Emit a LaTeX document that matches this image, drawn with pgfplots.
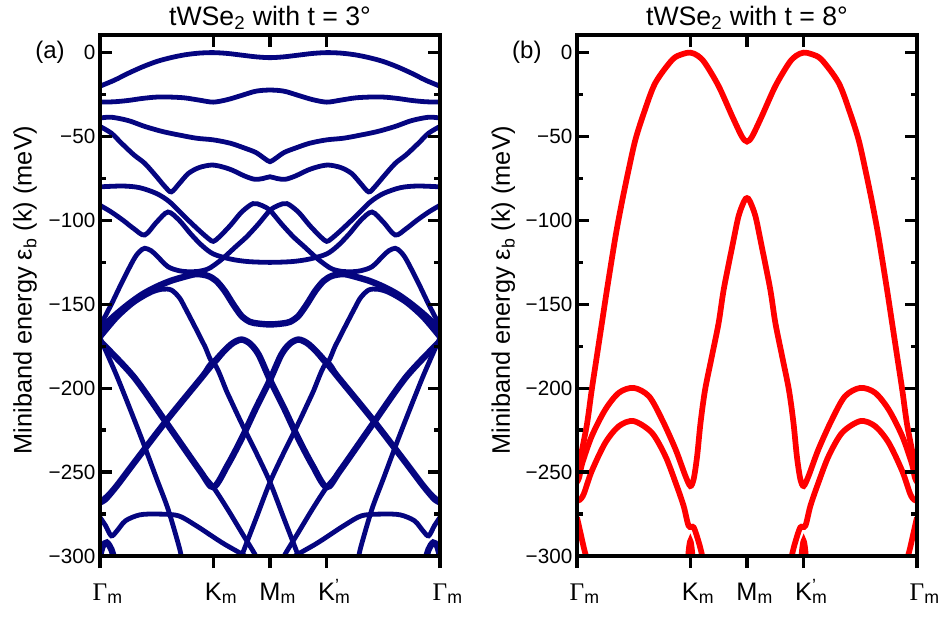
\documentclass[border=0pt]{standalone}
\usepackage{fontspec}
\setmainfont{Liberation Sans}
\newfontfamily\serifgreek{Liberation Serif}
\usepackage{pgfplots}
\pgfplotsset{compat=1.18}
\definecolor{bandnavy}{RGB}{5,5,128}

\pgfplotsset{
  bandpanel/.style={
    scale only axis, width=255pt, height=390.75pt,
    xmin=0, xmax=6, ymin=-300, ymax=10.5,
    axis on top, clip mode=individual,
    axis line style={line width=3pt},
    every tick/.style={black, line width=2.5pt},
    major tick length=9pt, minor tick length=4.5pt,
    xtick={0,2,3,4,6},
    xticklabels={{\serifgreek Γ}\rlap{\textsubscript{m}}, K\rlap{\textsubscript{m}}, M\rlap{\textsubscript{m}},
                 K\rlap{\textsuperscript{'}}\rlap{\textsubscript{m}}, {\serifgreek Γ}\rlap{\textsubscript{m}}},
    xtick pos=bottom, xtick align=outside,
    extra x ticks={2,3,4}, extra x tick labels={},
    extra x tick style={xtick pos=top, tick align=inside},
    ytick={-300,-250,-200,-150,-100,-50,0},
    yticklabels={−300,−250,−200,−150,−100,−50,0},
    minor y tick num=1,
    ytick pos=both, ytick align=inside,
    xticklabel style={font=\fontsize{19}{20}\selectfont, anchor=base, yshift=-24pt},
    yticklabel style={font=\fontsize{15.5}{16}\selectfont},
    title style={font=\fontsize{20}{21}\selectfont, at={(0.5,1.0038)}, anchor=base},
    ylabel style={font=\fontsize{19}{20}\selectfont, anchor=center},
    ylabel={Miniband energy ε\textsubscript{b} (k) (meV)},
  },
  bandA/.style={bandnavy, line width=3.6pt, smooth, tension=0.5, no marks},
  bandAthick/.style={bandnavy, line width=4.8pt, smooth, tension=0.5, no marks},
  bandB/.style={red, line width=4.3pt, smooth, tension=0.5, no marks},
}

\begin{document}
\begin{tikzpicture}
\useasboundingbox (-75pt,-52.5pt) rectangle (635.25pt,417pt);

% ---------- (a) t = 3 deg ----------
\begin{axis}[bandpanel,
  title={tWSe\textsubscript{2} with t = 3°},
  ylabel style={at={(-0.2206,0.5106)}},
]
% upper minibands
\addplot[bandA] coordinates {(0,-20) (0.25,-16.5) (0.5,-12.3) (0.75,-8.5) (1,-5.3) (1.25,-3) (1.5,-1.3) (1.75,-0.3) (2,0) (2.25,-0.5) (2.5,-1.5) (2.75,-2.5) (3,-3) (3.25,-2.5) (3.5,-1.5) (3.75,-0.5) (4,0) (4.25,-0.3) (4.5,-1.3) (4.75,-3) (5,-5.3) (5.25,-8.5) (5.5,-12.3) (5.75,-16.5) (6,-20)};
\addplot[bandA] coordinates {(0,-29.5) (0.25,-29.3) (0.5,-28.5) (0.75,-27.3) (1,-26.5) (1.25,-26.5) (1.5,-27) (1.75,-28.3) (2,-29.5) (2.25,-28) (2.5,-25.5) (2.75,-23) (3,-22.3) (3.25,-23) (3.5,-25.5) (3.75,-28) (4,-29.5) (4.25,-28.3) (4.5,-27) (4.75,-26.5) (5,-26.5) (5.25,-27.3) (5.5,-28.5) (5.75,-29.3) (6,-29.5)};
\addplot[bandA] coordinates {(0,-39) (0.2,-38.5) (0.5,-40.5) (0.79,-44) (1.1,-47) (1.38,-49) (1.7,-51) (2,-52) (2.3,-54) (2.56,-57) (2.75,-59.5) (2.9,-63) (3,-65) (3.1,-63) (3.25,-59.5) (3.44,-57) (3.7,-54) (4,-52) (4.3,-51) (4.62,-49) (4.9,-47) (5.21,-44) (5.5,-40.5) (5.8,-38.5) (6,-39)};
\addplot[bandA] coordinates {(0,-44) (0.2,-48) (0.38,-54) (0.6,-61) (0.79,-66) (1,-74) (1.15,-80) (1.26,-83) (1.4,-78) (1.56,-72) (1.75,-68.5) (1.97,-67) (2.15,-68) (2.33,-70) (2.55,-73.5) (2.73,-75.5) (2.88,-75) (3,-74) (3.12,-75) (3.27,-75.5) (3.45,-73.5) (3.67,-70) (3.85,-68) (4.03,-67) (4.25,-68.5) (4.44,-72) (4.6,-78) (4.74,-83) (4.85,-80) (5,-74) (5.21,-66) (5.4,-61) (5.62,-54) (5.8,-48) (6,-44)};
\addplot[bandA] coordinates {(0,-80) (0.4,-79.5) (0.7,-80.5) (1,-84) (1.23,-89) (1.5,-98) (1.75,-106) (1.92,-111) (2,-112.5) (2.1,-110) (2.3,-103) (2.5,-95) (2.7,-90) (2.85,-91) (3,-94) (3.2,-102) (3.41,-109.7) (3.6,-115.5) (3.83,-122.6) (4,-127) (4.1,-129) (4.25,-130.3) (4.44,-130.6) (4.6,-130) (4.8,-127.6) (5,-121) (5.1,-118) (5.21,-116.6) (5.3,-118.5) (5.4,-123) (5.6,-136) (5.8,-150) (6,-163)};
\addplot[bandA] coordinates {(6,-80) (5.6,-79.5) (5.3,-80.5) (5,-84) (4.77,-89) (4.5,-98) (4.25,-106) (4.08,-111) (4,-112.5) (3.9,-110) (3.7,-103) (3.5,-95) (3.3,-90) (3.15,-91) (3,-94) (2.8,-102) (2.59,-109.7) (2.4,-115.5) (2.17,-122.6) (2,-127) (1.9,-129) (1.75,-130.3) (1.56,-130.6) (1.4,-130) (1.2,-127.6) (1,-121) (0.9,-118) (0.79,-116.6) (0.7,-118.5) (0.6,-123) (0.4,-136) (0.2,-150) (0,-163)};
\addplot[bandA] coordinates {(0,-91) (0.2,-95) (0.41,-100) (0.6,-105) (0.79,-108.7) (1,-101) (1.2,-95) (1.4,-100) (1.6,-108) (1.8,-115) (2,-120) (2.3,-123) (2.6,-124.5) (3,-125) (3.4,-124.5) (3.7,-123) (4,-120) (4.2,-115) (4.4,-108) (4.6,-100) (4.8,-95) (5,-101) (5.21,-108.7) (5.4,-105) (5.59,-100) (5.8,-95) (6,-91)};
% middle minibands
\addplot[bandAthick] coordinates {(0,-165) (0.25,-157) (0.5,-150) (0.75,-144) (1,-139.5) (1.25,-136) (1.5,-133.5) (1.7,-132) (1.9,-133) (2.05,-136) (2.2,-142) (2.35,-150) (2.5,-157) (2.65,-160.5) (2.8,-161.5) (3,-162) (3.2,-161.5) (3.35,-160.5) (3.5,-157) (3.65,-150) (3.8,-142) (3.95,-136) (4.1,-133) (4.3,-132) (4.5,-133.5) (4.75,-136) (5,-139.5) (5.25,-144) (5.5,-150) (5.75,-157) (6,-165)};
\addplot[bandA] coordinates {(0,-170) (0.3,-158) (0.6,-149) (0.9,-143) (1.1,-141) (1.26,-141.5) (1.4,-146) (1.5,-152) (1.7,-165) (1.85,-175) (2,-185) (2.2,-177.5) (2.35,-173) (2.5,-171)};
\addplot[bandA] coordinates {(6,-170) (5.7,-158) (5.4,-149) (5.1,-143) (4.9,-141) (4.74,-141.5) (4.6,-146) (4.5,-152) (4.3,-165) (4.15,-175) (4,-185) (3.8,-177.5) (3.65,-173) (3.5,-171)};
% lower minibands
\addplot[bandAthick] coordinates {(0,-268) (0.1,-266) (0.3,-258) (0.59,-245) (1.18,-219) (1.76,-195) (2,-185) (2.2,-177.5) (2.35,-173) (2.5,-171) (2.65,-173.5) (2.8,-180) (3,-195) (3.25,-212) (3.5,-230) (3.75,-246) (4,-259) (4.24,-249) (4.82,-221) (5.41,-193) (6,-172)};
\addplot[bandAthick] coordinates {(6,-268) (5.9,-266) (5.7,-258) (5.41,-245) (4.82,-219) (4.24,-195) (4,-185) (3.8,-177.5) (3.65,-173) (3.5,-171) (3.35,-173.5) (3.2,-180) (3,-195) (2.75,-212) (2.5,-230) (2.25,-246) (2,-259) (1.76,-249) (1.18,-221) (0.59,-193) (0,-172)};
\addplot[bandA] coordinates {(0,-268) (0.3,-258) (0.59,-245) (1.18,-219) (1.76,-195) (2,-185) (2.25,-203) (2.5,-221) (2.75,-238) (3,-256) (3.25,-278) (3.5,-300) (3.55,-306)};
\addplot[bandA] coordinates {(6,-268) (5.7,-258) (5.41,-245) (4.82,-219) (4.24,-195) (4,-185) (3.75,-203) (3.5,-221) (3.25,-238) (3,-256) (2.75,-278) (2.5,-300) (2.45,-306)};
\addplot[bandA] coordinates {(0,-172) (0.59,-193) (1.18,-221) (1.76,-249) (2,-259) (2.25,-272) (2.5,-286) (2.75,-300) (2.8,-306)};
\addplot[bandA] coordinates {(6,-172) (5.41,-193) (4.82,-221) (4.24,-249) (4,-259) (3.75,-272) (3.5,-286) (3.25,-300) (3.2,-306)};
\addplot[bandA] coordinates {(0,-170) (0.3,-193) (0.7,-227) (1,-254) (1.2,-272) (1.4,-295) (1.46,-305)};
\addplot[bandA] coordinates {(6,-170) (5.7,-193) (5.3,-227) (5,-254) (4.8,-272) (4.6,-295) (4.54,-305)};
\addplot[bandA] coordinates {(0,-277) (0.1,-282) (0.2,-288) (0.3,-285) (0.45,-279) (0.7,-275.5) (1,-275) (1.38,-276) (1.7,-282) (1.97,-288) (2.2,-293) (2.56,-300) (2.7,-304)};
\addplot[bandA] coordinates {(6,-277) (5.9,-282) (5.8,-288) (5.7,-285) (5.55,-279) (5.3,-275.5) (5,-275) (4.62,-276) (4.3,-282) (4.03,-288) (3.8,-293) (3.44,-300) (3.3,-304)};
\addplot[bandAthick] coordinates {(0,-300) (0.05,-294) (0.12,-292) (0.2,-296) (0.28,-305)};
\addplot[bandAthick] coordinates {(6,-300) (5.95,-294) (5.88,-292) (5.8,-296) (5.72,-305)};
\node[font=\fontsize{18}{18}\selectfont] at (rel axis cs:-0.147,0.9662) {(a)};
\end{axis}

% ---------- (b) t = 8 deg ----------
\begin{axis}[bandpanel, at={(357.75pt,0pt)},
  title={tWSe\textsubscript{2} with t = 8°},
  ylabel style={at={(-0.217,0.5106)}},
]
\addplot[bandB] coordinates {(0,-252) (0.09,-236.5) (0.18,-220.6) (0.26,-201) (0.35,-181) (0.44,-161) (0.53,-141) (0.68,-109.5) (0.79,-89.6) (0.91,-70) (1.03,-52) (1.18,-36) (1.38,-18.2) (1.68,-4.3) (1.85,-1) (2,0) (2.13,-1.8) (2.26,-6.3) (2.5,-20) (2.74,-38) (2.91,-50) (3,-53) (3.09,-50) (3.26,-38) (3.5,-20) (3.74,-6.3) (3.87,-1.8) (4,0) (4.15,-1) (4.32,-4.3) (4.62,-18.2) (4.82,-36) (4.97,-52) (5.09,-70) (5.21,-89.6) (5.32,-109.5) (5.47,-141) (5.56,-161) (5.65,-181) (5.74,-201) (5.82,-220.6) (5.91,-236.5) (6,-252)};
\addplot[bandB] coordinates {(0,-256) (0.04,-253) (0.09,-245) (0.26,-228.6) (0.5,-212.7) (0.74,-202.7) (1,-199.8) (1.27,-204.8) (1.5,-218.6) (1.74,-236.5) (1.91,-252) (2,-258.3) (2.06,-254) (2.12,-240.5) (2.18,-220.6) (2.26,-201) (2.38,-181) (2.5,-161) (2.59,-141) (2.74,-115.5) (2.85,-97.6) (2.95,-88.5) (3,-86.7) (3.05,-88.5) (3.15,-97.6) (3.26,-115.5) (3.41,-141) (3.5,-161) (3.62,-181) (3.74,-201) (3.82,-220.6) (3.88,-240.5) (3.94,-254) (4,-258.3) (4.09,-252) (4.26,-236.5) (4.5,-218.6) (4.73,-204.8) (5,-199.8) (5.26,-202.7) (5.5,-212.7) (5.74,-228.6) (5.91,-245) (5.96,-253) (6,-256)};
\addplot[bandB] coordinates {(0,-267) (0.05,-266.5) (0.12,-263) (0.26,-249.4) (0.5,-232.5) (0.74,-222.6) (1,-219.6) (1.32,-226.5) (1.56,-240.5) (1.74,-256.3) (1.88,-270) (1.97,-282) (2.06,-283) (2.15,-292) (2.21,-300) (2.26,-310)};
\addplot[bandB] coordinates {(6,-267) (5.95,-266.5) (5.88,-263) (5.74,-249.4) (5.5,-232.5) (5.26,-222.6) (5,-219.6) (4.68,-226.5) (4.44,-240.5) (4.26,-256.3) (4.12,-270) (4.03,-282) (3.94,-283) (3.85,-292) (3.79,-300) (3.74,-310)};
\addplot[bandB] coordinates {(1.94,-310) (1.97,-297) (2,-291) (2.03,-297) (2.06,-310)};
\addplot[bandB] coordinates {(3.94,-310) (3.97,-297) (4,-291) (4.03,-297) (4.06,-310)};
\addplot[bandB] coordinates {(0,-277) (0.06,-286) (0.12,-295) (0.18,-303) (0.22,-310)};
\addplot[bandB] coordinates {(6,-277) (5.94,-286) (5.88,-295) (5.82,-303) (5.78,-310)};
\node[font=\fontsize{18}{18}\selectfont] at (rel axis cs:-0.1475,0.9662) {(b)};
\end{axis}
\end{tikzpicture}
\end{document}
